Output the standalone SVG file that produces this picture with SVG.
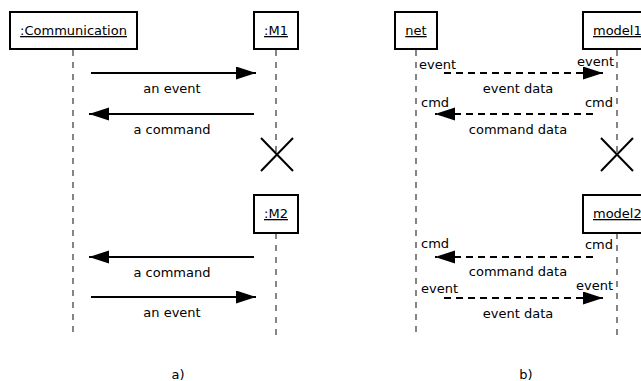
<svg xmlns="http://www.w3.org/2000/svg" width="641" height="381" viewBox="0 0 641 381">
  <style>
    text { font-family: "DejaVu Sans", "Liberation Sans", sans-serif; font-size: 13px; fill: #000; }
    .mid { text-anchor: middle; }
    .end { text-anchor: end; }
    .title { text-decoration: underline; }
    .box { fill: #fff; stroke: #000; stroke-width: 2; }
    .life { stroke: #444; stroke-width: 1.3; stroke-dasharray: 6 6; fill: none; }
    .msg { stroke: #000; stroke-width: 2; fill: none; marker-end: url(#head); }
    .dmsg { stroke: #000; stroke-width: 2; stroke-dasharray: 7 5; fill: none; marker-end: url(#head); }
    .stop { stroke: #000; stroke-width: 2; fill: none; }
  </style>
  <defs>
    <marker id="head" markerUnits="userSpaceOnUse" markerWidth="21" markerHeight="14" refX="20" refY="6.5" orient="auto">
      <path d="M0,0 L20,6.5 L0,13 Z" fill="#000"/>
    </marker>
  </defs>
  <rect width="641" height="381" fill="#fff"/>

  <!-- lifelines and messages -->
  <g id="connectors">
    <!-- a) -->
    <line class="life" x1="73" y1="50" x2="73" y2="334"/>
    <line class="life" x1="276" y1="50" x2="276" y2="155"/>
    <line class="life" x1="276" y1="233" x2="276" y2="338"/>
    <line class="msg" x1="91" y1="73" x2="256" y2="73"/>
    <line class="msg" x1="254" y1="114" x2="89" y2="114"/>
    <line class="msg" x1="254" y1="257" x2="89" y2="257"/>
    <line class="msg" x1="91" y1="297" x2="256" y2="297"/>
    <!-- b) -->
    <line class="life" x1="416" y1="50" x2="416" y2="334"/>
    <line class="life" x1="617" y1="50" x2="617" y2="155"/>
    <line class="life" x1="617" y1="233" x2="617" y2="338"/>
    <line class="dmsg" x1="444" y1="73" x2="603" y2="73"/>
    <line class="dmsg" x1="593" y1="114" x2="435" y2="114"/>
    <line class="dmsg" x1="593" y1="257" x2="435" y2="257"/>
    <line class="dmsg" x1="444" y1="298" x2="603" y2="298"/>
  </g>

  <!-- message labels -->
  <g id="labels">
    <text class="mid" x="172" y="93">an event</text>
    <text class="mid" x="172" y="134">a command</text>
    <text class="mid" x="172" y="277">a command</text>
    <text class="mid" x="172" y="317">an event</text>

    <text x="419" y="69">event</text>
    <text class="end" x="614" y="66">event</text>
    <text class="mid" x="518" y="93">event data</text>
    <text x="421" y="107">cmd</text>
    <text class="end" x="613" y="107">cmd</text>
    <text class="mid" x="518" y="134">command data</text>

    <text x="421" y="248">cmd</text>
    <text class="end" x="613" y="249">cmd</text>
    <text class="mid" x="518" y="276">command data</text>
    <text x="421" y="293">event</text>
    <text class="end" x="613" y="290">event</text>
    <text class="mid" x="518" y="318">event data</text>

    <text class="mid" x="178" y="379">a)</text>
    <text class="mid" x="526" y="379">b)</text>
  </g>

  <!-- a) participants -->
  <g id="communication">
    <rect class="box" x="10" y="12" width="127" height="37"/>
    <text class="mid title" x="73.5" y="35">:Communication</text>
  </g>
  <g id="m1">
    <rect class="box" x="254" y="12" width="44" height="37"/>
    <text class="mid title" x="276" y="35">:M1</text>
    <path class="stop" d="M261,138 L293,171 M293,138 L261,171"/>
  </g>
  <g id="m2">
    <rect class="box" x="254" y="195" width="44" height="38"/>
    <text class="mid title" x="276" y="218">:M2</text>
  </g>

  <!-- b) participants -->
  <g id="net">
    <rect class="box" x="395" y="12" width="42" height="37"/>
    <text class="mid title" x="416" y="35">net</text>
  </g>
  <g id="model1">
    <rect class="box" x="583" y="12" width="70" height="37"/>
    <text class="title" x="593" y="35">model1</text>
    <path class="stop" d="M601,138 L633,171 M633,138 L601,171"/>
  </g>
  <g id="model2">
    <rect class="box" x="583" y="195" width="70" height="38"/>
    <text class="title" x="593" y="218">model2</text>
  </g>
</svg>
